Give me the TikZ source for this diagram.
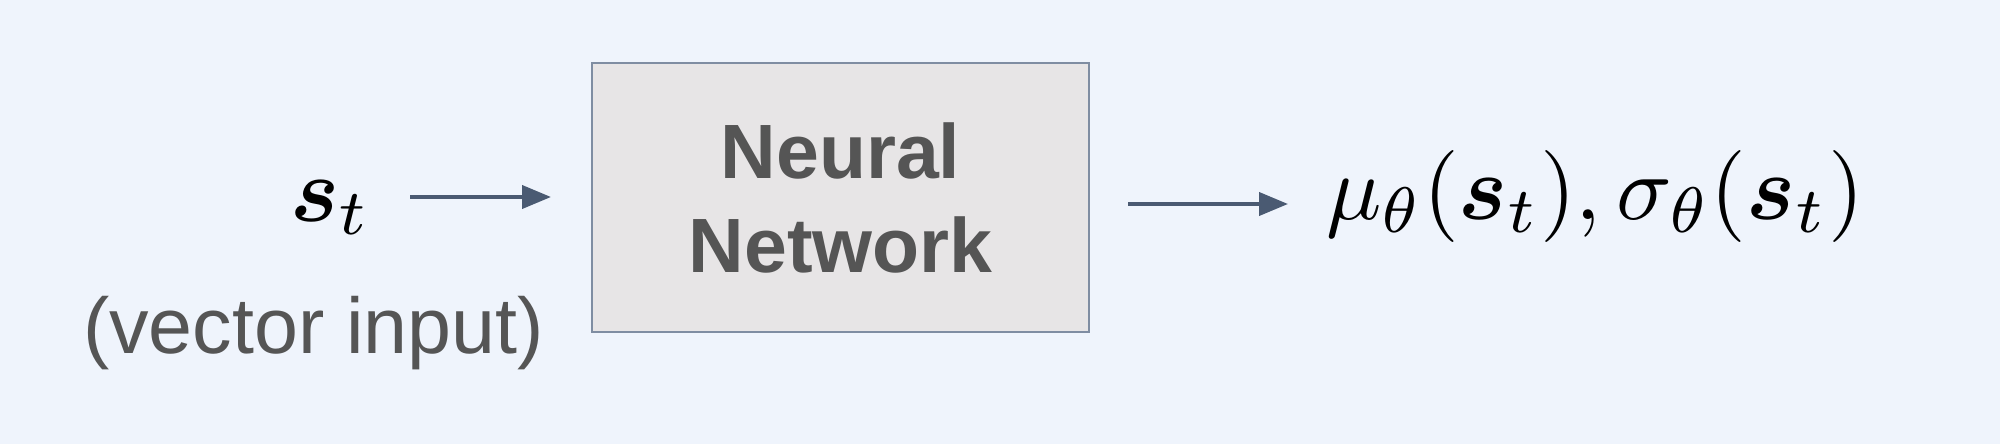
\documentclass[tikz,border=0pt]{standalone}
\usepackage{bm}
\usepackage{fontspec}
\setmainfont{Liberation Sans}
\usetikzlibrary{arrows.meta}
\definecolor{bgc}{HTML}{EFF4FC}
\definecolor{boxfill}{HTML}{E7E5E6}
\definecolor{boxline}{HTML}{7F8DA2}
\definecolor{txtc}{HTML}{555555}
\definecolor{arrc}{HTML}{4A5A72}
\tikzset{
  lbl/.style={inner sep=0pt, outer sep=0pt},
  mathlbl/.style={inner sep=0pt, outer sep=0pt, scale=9.2, transform shape, font=\fontsize{10}{12}\selectfont},
  nnbox/.style={draw=boxline, line width=2pt, fill=boxfill, inner sep=0pt,
    minimum width=497pt, minimum height=269pt, align=center, text=txtc,
    font=\fontsize{77}{94}\selectfont\bfseries},
  arr/.style={draw=arrc, line width=4pt, -{Triangle[length=29pt,width=23pt]}},
}
\begin{document}
\begin{tikzpicture}[x=1pt,y=-1pt]
\fill[bgc] (0,0) rectangle (2000,444);
\useasboundingbox (0,0) rectangle (2000,444);
\node[nnbox] (nn) at (840.5,197.5) {Neural\\Network};
\node[lbl, anchor=base west, text=txtc, font=\fontsize{79}{82}\selectfont] (vi) at (83,353) {(vector input)};
\node[mathlbl, anchor=base west] (st) at (290,221) {$\bm{s}_t$};
\node[mathlbl, anchor=base west] (out) at (1326,219) {$\mu_\theta(\bm{s}_t),\sigma_\theta(\bm{s}_t)$};
\coordinate (a1s) at (410,197);
\coordinate (a1e) at (551,197);
\coordinate (a2s) at (1128,204);
\coordinate (a2e) at (1288,204);
\draw[arr] (a1s) -- (a1e);
\draw[arr] (a2s) -- (a2e);
\end{tikzpicture}
\end{document}
